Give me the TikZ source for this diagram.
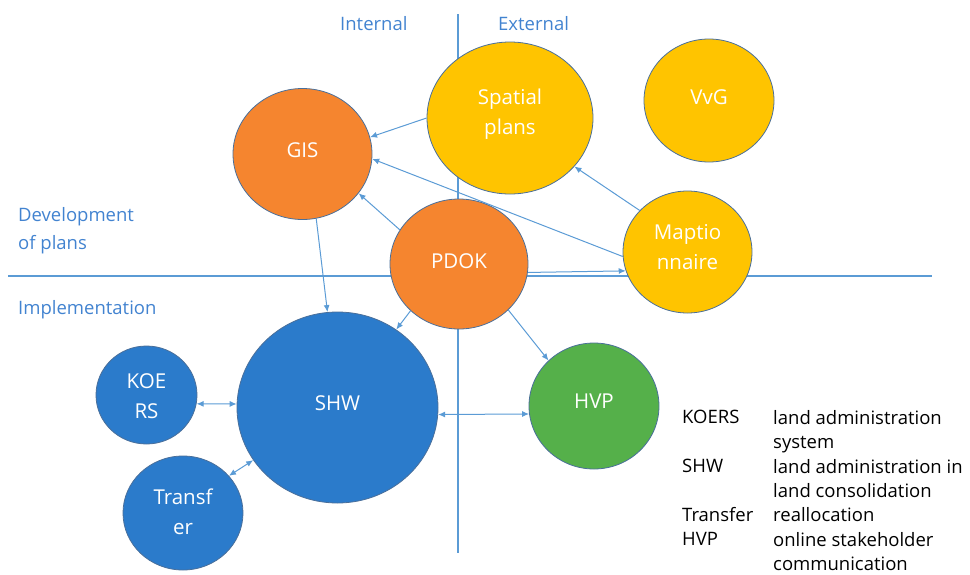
\documentclass[tikz,border=0pt]{standalone}
\usepackage{fontspec}
\setmainfont{Open Sans}
\usetikzlibrary{shapes.geometric,arrows.meta}
\definecolor{axisblue}{HTML}{5B9BD5}
\definecolor{lblblue}{HTML}{4283D0}
\definecolor{corange}{HTML}{F5852F}
\definecolor{cyellow}{HTML}{FFC400}
\definecolor{cblue}{HTML}{2B7BCB}
\definecolor{cgreen}{HTML}{55B04A}
\definecolor{cedge}{HTML}{4A6F9A}
\tikzset{
  circ/.style={ellipse, draw=cedge, line width=0.8pt, inner sep=0pt, text=white,
    font=\fontsize{20.5}{30}\selectfont, align=center},
  conn/.style={draw=axisblue, line width=1pt, -{Latex[length=7pt,width=6pt]}},
  bconn/.style={draw=axisblue, line width=1pt, {Latex[length=7pt,width=6pt]}-{Latex[length=7pt,width=6pt]}},
  axis/.style={draw=axisblue, line width=1.2pt},
  lbl/.style={text=lblblue, font=\fontsize{18.5}{28}\selectfont, inner sep=0pt, anchor=west, align=left},
  leg/.style={font=\fontsize{18.5}{24.4}\selectfont, inner sep=0pt, anchor=north west, align=left}
}
\begin{document}
\begin{tikzpicture}[x=1pt,y=-1pt]
\useasboundingbox (0,0) rectangle (970,574);
% axes
\coordinate (hl) at (8,276);
\coordinate (hr) at (932,276);
\coordinate (vt) at (458,14);
\coordinate (vb) at (458,553);
\draw[axis] (hl) -- (hr);
\draw[axis] (vt) -- (vb);
% labels
\node[lbl] (int) at (340,24) {Internal};
\node[lbl] (ext) at (498,24) {External};
\node[lbl] (dev) at (18,231) {Development\\of plans};
\node[lbl] (imp) at (18,310) {Implementation};
% circles
\node[circ, fill=corange, minimum width=139pt, minimum height=131pt] (gis) at (302.5,154) {};
\node[circ, fill=cyellow, minimum width=166pt, minimum height=152pt] (sp) at (510,118) {};
\node[circ, fill=cyellow, minimum width=130pt, minimum height=123pt] (vvg) at (709,100.5) {};
\node[circ, fill=cyellow, minimum width=129pt, minimum height=122pt] (mapt) at (687.5,252) {};
\node[circ, fill=corange, minimum width=138pt, minimum height=130pt] (pdok) at (459,264) {};
\node[circ, fill=cblue, minimum width=201pt, minimum height=191pt] (shw) at (337.5,407.5) {};
\node[circ, fill=cblue, minimum width=101pt, minimum height=98pt] (koers) at (146.5,395) {};
\node[circ, fill=cblue, minimum width=120pt, minimum height=114pt] (tr) at (183,513) {};
\node[circ, fill=cgreen, minimum width=130pt, minimum height=126pt] (hvp) at (594,406) {};
% circle texts
\node[circ, draw=none, fill=none] at (302.5,150) {GIS};
\node[circ, draw=none, fill=none] at (510,114) {Spatial\\plans};
\node[circ, draw=none, fill=none] at (709,97) {VvG};
\node[circ, draw=none, fill=none] at (687.5,247) {Maptio\\nnaire};
\node[circ, draw=none, fill=none] at (459,261) {PDOK};
\node[circ, draw=none, fill=none] at (337.5,403) {SHW};
\node[circ, draw=none, fill=none] at (146.5,396) {KOE\\RS};
\node[circ, draw=none, fill=none] at (183,512) {Transf\\er};
\node[circ, draw=none, fill=none] at (594,401) {HVP};
% connectors
\draw[conn] (sp.180) -- (gis.14);
\draw[conn] (mapt.184) -- (gis.-4);
\draw[conn] (pdok.150) -- (gis.-35);
\draw[conn] (mapt.139) -- (sp.-37);
\draw[conn] (pdok.-7) -- (mapt.197);
\draw[conn] (gis.-78) -- (shw.96);
\draw[conn] (pdok.224) -- (shw.53);
\draw[conn] (pdok.-43) -- (hvp.135);
\draw[bconn] (koers.-10) -- (shw.178);
\draw[bconn] (tr.39) -- (shw.212);
\draw[bconn] (shw.-4) -- (hvp.187);
% legend
\node[leg] (legA) at (682,410) {KOERS\\\\SHW\\\\Transfer\\HVP};
\node[leg] (legB) at (773,410) {land administration\\system\\land administration in\\land consolidation\\reallocation\\online stakeholder\\communication};
\end{tikzpicture}
\end{document}
